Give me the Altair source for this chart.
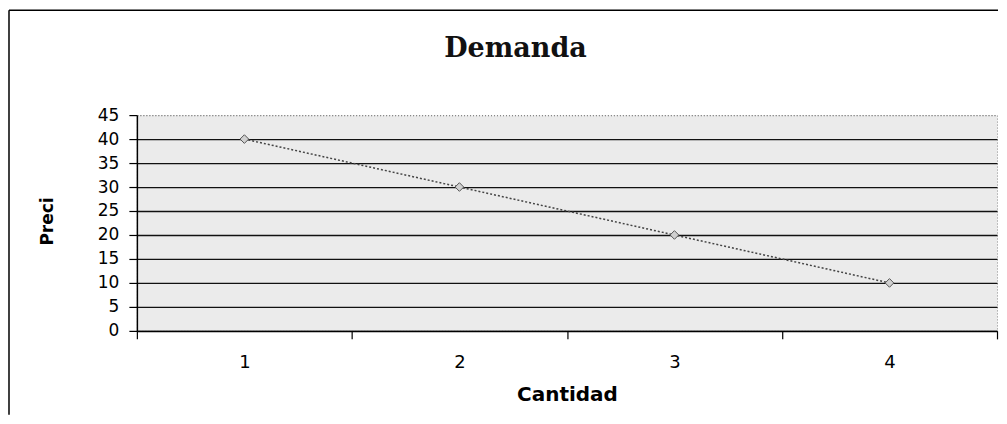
import altair as alt
import pandas as pd

# ---- data ----
cantidad = ["1", "2", "3", "4"]
precio = [40, 30, 20, 10]
y_tick_values = [0, 5, 10, 15, 20, 25, 30, 35, 40, 45]
chart_title = "Demanda"
x_title = "Cantidad"
y_title = "Preci"

df = pd.DataFrame({"Cantidad": cantidad, "Precio": precio})
one = pd.DataFrame({"k": [0]})

W, H = 861, 216

x_enc = alt.X(
    "Cantidad:O",
    sort=cantidad,
    scale=alt.Scale(type="band", paddingInner=0, paddingOuter=0),
    axis=alt.Axis(
        title=x_title, labelAngle=0, tickBand="extent", tickSize=8,
        tickColor="black", tickWidth=1.2, domainColor="black", domainWidth=1.5,
        labelFont="DejaVu Sans", labelFontSize=18, labelColor="black", labelPadding=15,
        titleFont="DejaVu Sans", titleFontSize=20, titleFontWeight="bold",
        titleColor="black", titlePadding=13,
    ),
)
y_enc = alt.Y(
    "Precio:Q",
    scale=alt.Scale(domain=[0, 45], nice=False, zero=True),
    axis=alt.Axis(
        title=y_title, values=y_tick_values, tickSize=8, tickColor="black",
        tickWidth=1.2, domainColor="black", domainWidth=1.5,
        labelFont="DejaVu Sans", labelFontSize=17, labelColor="black", labelPadding=10,
        grid=True, gridColor={"condition": {"test": "datum.value == 45", "value": "#888888"}, "value": "#111111"},
        gridDash={"condition": {"test": "datum.value == 45", "value": [1, 2]}, "value": []},
        gridWidth=1.3,
        titleFont="DejaVu Sans", titleFontSize=17, titleFontWeight="bold",
        titleColor="black", titleAngle=-90, titleBaseline="middle",
        titleX=-89, titleY=H / 2 - 2,
    ),
)

line = alt.Chart(df).mark_line(color="#444444", strokeWidth=1.5, strokeDash=[2, 2]).encode(x=x_enc, y=y_enc)
pts = alt.Chart(df).mark_point(shape="diamond", size=75, filled=True, fill="#d0d0d0",
                               stroke="#555555", strokeWidth=1, opacity=1).encode(x=x_enc, y=y_enc)

title_txt = alt.Chart(one).mark_text(
    font="DejaVu Serif", fontSize=27, fontWeight="bold", color="#111111",
    align="center", baseline="alphabetic"
).encode(text=alt.value(chart_title), x=alt.value(379), y=alt.value(-58))

frame_top = alt.Chart(one).mark_rule(color="black", strokeWidth=1.5).encode(
    x=alt.value(-128), x2=alt.value(862), y=alt.value(-105), y2=alt.value(-105))
frame_left = alt.Chart(one).mark_rule(color="black", strokeWidth=1.5).encode(
    x=alt.value(-128), x2=alt.value(-128), y=alt.value(-105), y2=alt.value(300))

chart = alt.layer(frame_top, frame_left, title_txt, line, pts).properties(
    width=W, height=H, padding={"left": 0, "top": 1, "right": 0, "bottom": 0},
    background="white",
).configure_view(fill="#ebebeb", stroke="#888888", strokeDash=[1, 2], strokeWidth=1)

chart.save("out.html", embed_options={"renderer": "svg", "actions": False})
